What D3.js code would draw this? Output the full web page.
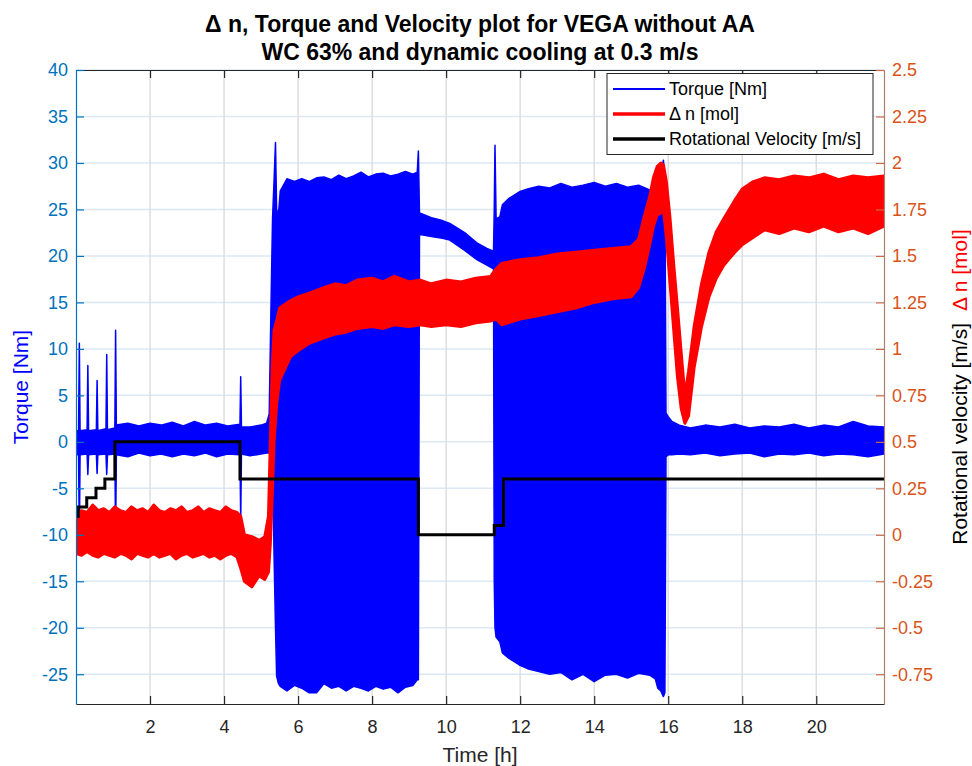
<!DOCTYPE html>
<html>
<head>
<meta charset="utf-8">
<script src="https://cdn.jsdelivr.net/npm/d3@7"></script>
<style>
body { margin: 0; background: #fff; }
text { font-family: Arial, "Liberation Sans", Helvetica, sans-serif; }
</style>
</head>
<body>
<div id="chart"></div>
<script>
// 1) Data (time in h, torque in Nm, delta n in mol, velocity in m/s)
// torque is a dense oscillating signal, kept as its upper / lower envelope
var torqueTime = [0.00, 0.07, 0.09, 0.11, 0.30, 0.32, 0.34, 0.55, 0.57, 0.59,
    0.81, 0.83, 0.85, 1.05, 1.07, 1.09, 1.4, 1.7, 2.0, 2.3,
    2.6, 2.9, 3.2, 3.5, 3.8, 4.1, 4.43, 4.45, 4.47, 4.7,
    5.0, 5.15, 5.22, 5.27, 5.31, 5.35, 5.39, 5.42, 5.47, 5.52,
    5.7, 5.9, 6.1, 6.3, 6.5, 6.7, 6.9, 7.1, 7.3, 7.5,
    7.7, 7.9, 8.1, 8.3, 8.5, 8.7, 8.9, 9.1, 9.22, 9.25,
    9.28, 9.3, 9.6, 9.9, 10.1, 10.5, 10.83, 11.1, 11.28, 11.30,
    11.32, 11.35, 11.45, 11.52, 11.7, 11.98, 12.2, 12.5, 12.8, 13.1,
    13.4, 13.7, 14.0, 14.3, 14.6, 14.9, 15.2, 15.5, 15.65, 15.72,
    15.8, 15.87, 15.91, 15.94, 16.0, 16.1, 16.3, 16.6, 17.0, 17.4,
    17.8, 18.2, 18.6, 19.0, 19.4, 19.8, 20.2, 20.6, 21.0, 21.4,
    21.83];
var torqueHigh = [1.2, 1.2, 10.6, 1.2, 1.3, 8.2, 1.2, 1.3, 6.6, 1.2,
    1.4, 9.4, 1.3, 1.5, 12.0, 1.8, 2.0, 1.7, 2.0, 1.8,
    2.1, 1.7, 2.2, 1.8, 2.0, 1.7, 1.9, 7.0, 1.6, 1.6,
    1.8, 2.0, 3.0, 15.0, 24.0, 28.0, 32.2, 25.0, 24.5, 27.0,
    28.3, 28.0, 28.3, 28.0, 28.4, 28.5, 28.2, 28.7, 28.3, 28.6,
    29.0, 28.5, 28.8, 28.9, 28.6, 28.8, 29.1, 28.8, 29.0, 31.3,
    24.5, 24.6, 24.1, 23.8, 23.5, 22.5, 21.4, 20.8, 20.5, 25.0,
    31.9, 24.0, 24.2, 25.5, 26.2, 26.9, 27.2, 27.5, 27.3, 27.8,
    27.4, 27.6, 27.9, 27.5, 27.8, 27.4, 27.6, 27.1, 27.5, 27.8,
    28.5, 30.3, 28.0, 3.1, 2.7, 2.2, 1.8, 1.5, 1.8, 1.6,
    1.9, 1.5, 1.7, 1.6, 1.9, 1.5, 1.8, 1.6, 2.2, 1.7,
    1.6];
var torqueLow = [-1.4, -1.4, -10.5, -1.4, -1.3, -3.5, -1.4, -1.3, -3.4, -1.4,
    -1.3, -3.5, -1.4, -1.3, -10.0, -1.4, -1.6, -1.2, -1.5, -1.3,
    -1.6, -1.3, -1.5, -1.2, -1.6, -1.3, -1.4, -8.4, -1.3, -1.5,
    -1.3, -1.2, -1.2, -1.5, -1.5, -12.0, -20.0, -25.2, -26.0, -26.3,
    -26.8, -26.2, -26.5, -27.0, -27.0, -26.0, -26.5, -26.3, -26.8, -26.3,
    -26.5, -26.8, -26.3, -26.6, -26.4, -27.0, -26.4, -26.2, -25.6, -25.6,
    22.4, 22.3, 22.1, 21.9, 21.7, 20.6, 19.6, 19.0, 18.6, -15.0,
    -20.0, -21.0, -21.5, -22.7, -23.3, -24.0, -24.4, -24.7, -25.0, -24.8,
    -25.6, -25.0, -25.8, -25.1, -25.0, -25.4, -24.9, -25.1, -25.5, -26.5,
    -26.8, -27.4, -27.0, -1.6, -1.4, -1.4, -1.3, -1.4, -1.2, -1.5,
    -1.3, -1.2, -1.6, -1.3, -1.4, -1.2, -1.5, -1.3, -1.4, -1.6,
    -1.3];

// delta n band (right axis)
var dnTime = [0.0, 0.15, 0.3, 0.45, 0.6, 0.75, 0.9, 1.05, 1.2, 1.35,
    1.5, 1.65, 1.8, 1.95, 2.1, 2.25, 2.4, 2.55, 2.7, 2.85,
    3.0, 3.15, 3.3, 3.45, 3.6, 3.75, 3.9, 4.05, 4.2, 4.35,
    4.45, 4.55, 4.75, 4.95, 5.1, 5.2, 5.25, 5.3, 5.35, 5.42,
    5.5, 5.8, 6.0, 6.3, 6.7, 7.0, 7.3, 7.6, 8.0, 8.3,
    8.6, 9.0, 9.3, 9.6, 10.0, 10.4, 10.8, 11.2, 11.35, 11.5,
    12.0, 12.5, 13.0, 13.5, 14.0, 14.5, 15.0, 15.2, 15.35, 15.5,
    15.6, 15.7, 15.8, 15.87, 15.95, 16.05, 16.15, 16.25, 16.35, 16.45,
    16.55, 16.7, 16.9, 17.1, 17.3, 17.5, 17.8, 18.0, 18.3, 18.6,
    19.0, 19.4, 19.8, 20.2, 20.6, 21.0, 21.4, 21.83];
var dnHigh = [0.10, 0.13, 0.12, 0.16, 0.13, 0.14, 0.12, 0.15, 0.13, 0.12,
    0.15, 0.13, 0.14, 0.12, 0.16, 0.13, 0.12, 0.14, 0.13, 0.15,
    0.12, 0.13, 0.15, 0.12, 0.14, 0.13, 0.12, 0.15, 0.13, 0.12,
    0.10, 0.00, -0.01, -0.03, -0.01, 0.10, 0.50, 0.90, 1.10, 1.15,
    1.22, 1.26, 1.28, 1.30, 1.33, 1.35, 1.34, 1.37, 1.38, 1.36,
    1.39, 1.36, 1.37, 1.35, 1.37, 1.36, 1.38, 1.39, 1.43, 1.46,
    1.48, 1.49, 1.51, 1.52, 1.53, 1.54, 1.55, 1.59, 1.71, 1.82,
    1.92, 1.98, 2.00, 1.99, 1.90, 1.70, 1.45, 1.22, 0.98, 0.75,
    0.88, 1.12, 1.35, 1.52, 1.63, 1.70, 1.80, 1.86, 1.90, 1.92,
    1.91, 1.93, 1.92, 1.94, 1.91, 1.93, 1.92, 1.93];
var dnLow = [-0.10, -0.11, -0.09, -0.11, -0.12, -0.10, -0.11, -0.12, -0.10, -0.11,
    -0.13, -0.10, -0.11, -0.12, -0.10, -0.12, -0.11, -0.10, -0.13, -0.11,
    -0.10, -0.12, -0.11, -0.10, -0.12, -0.11, -0.13, -0.11, -0.10, -0.12,
    -0.18, -0.25, -0.28, -0.22, -0.24, -0.20, -0.05, 0.20, 0.50, 0.70,
    0.83, 0.96, 0.99, 1.03, 1.06, 1.08, 1.09, 1.11, 1.12, 1.11,
    1.13, 1.12, 1.13, 1.12, 1.13, 1.12, 1.14, 1.15, 1.16, 1.13,
    1.16, 1.18, 1.20, 1.22, 1.25, 1.27, 1.28, 1.33, 1.43, 1.56,
    1.66, 1.72, 1.73, 1.75, 1.60, 1.35, 1.10, 0.85, 0.68, 0.60,
    0.64, 0.90, 1.12, 1.28, 1.38, 1.45, 1.52, 1.56, 1.60, 1.64,
    1.62, 1.65, 1.63, 1.66, 1.63, 1.65, 1.62, 1.66];

// rotational velocity steps (right axis)
var velTime = [0, 0.06, 0.29, 0.54, 0.78, 1.05, 4.43, 9.25, 11.3, 11.55, 21.83];
var velValue = [0.1, 0.15, 0.2, 0.25, 0.3, 0.5, 0.3, 0, 0.05, 0.3, 0.3];

// tick labels
var xTicks = [2, 4, 6, 8, 10, 12, 14, 16, 18, 20];
var torqueTicks = [40, 35, 30, 25, 20, 15, 10, 5, 0, -5, -10, -15, -20, -25];
var dnTicks = [2.5, 2.25, 2, 1.75, 1.5, 1.25, 1, 0.75, 0.5, 0.25, 0, -0.25, -0.5, -0.75];

var titleLines = ["\u0394 n, Torque and Velocity plot for VEGA without AA",
    "WC 63% and dynamic cooling at 0.3 m/s"];
var legendLabels = ["Torque [Nm]", "\u0394 n [mol]", "Rotational Velocity [m/s]"];

// 2) svg size and margins
var svgWidth = 972;
var svgHeight = 766;
var margin = {
    top: 70,
    bottom: 62,
    right: 88,
    left: 76
};
var width = svgWidth - margin.left - margin.right;
var height = svgHeight - margin.top - margin.bottom;

var svg = d3.select("#chart")
    .append("svg")
    .attr("width", svgWidth)
    .attr("height", svgHeight);

svg.append("defs").append("clipPath")
    .attr("id", "plotClip")
    .append("rect")
    .attr("width", width)
    .attr("height", height);

var chart = svg.append("g")
    .attr("transform", `translate(${margin.left}, ${margin.top})`);

// 3) scales
var xScale = d3.scaleLinear().domain([0, 21.83]).range([0, width]);
var yLeft = d3.scaleLinear().domain([-28.2, 40]).range([height, 0]);
var yRight = d3.scaleLinear().domain([-0.91, 2.5]).range([height, 0]);

// 4) grid
chart.append("g").selectAll("line")
    .data(torqueTicks)
    .enter()
    .append("line")
    .attr("x1", 0)
    .attr("x2", width)
    .attr("y1", d => yLeft(d))
    .attr("y2", d => yLeft(d))
    .attr("stroke", "#dce9f4")
    .attr("stroke-width", 1.5);
chart.append("g").selectAll("line")
    .data(xTicks)
    .enter()
    .append("line")
    .attr("x1", d => xScale(d))
    .attr("x2", d => xScale(d))
    .attr("y1", 0)
    .attr("y2", height)
    .attr("stroke", "#dedede")
    .attr("stroke-width", 1.5);

// 5) series
var torqueRows = torqueTime.map((t, i) => ({t: t, hi: torqueHigh[i], lo: torqueLow[i]}));
var dnRows = dnTime.map((t, i) => ({t: t, hi: dnHigh[i], lo: dnLow[i]}));
var velRows = velTime.map((t, i) => ({t: t, v: velValue[i]}));

var plot = chart.append("g").attr("clip-path", "url(#plotClip)");

var torqueArea = d3.area()
    .x(d => xScale(d.t))
    .y0(d => yLeft(d.lo))
    .y1(d => yLeft(d.hi));
plot.append("path")
    .datum(torqueRows)
    .attr("d", torqueArea)
    .attr("fill", "#0000ff")
    .attr("stroke", "#0000ff")
    .attr("stroke-width", 1.5)
    .attr("stroke-linejoin", "round");

var dnArea = d3.area()
    .x(d => xScale(d.t))
    .y0(d => yRight(d.lo))
    .y1(d => yRight(d.hi));
plot.append("path")
    .datum(dnRows)
    .attr("d", dnArea)
    .attr("fill", "#ff0000")
    .attr("stroke", "#ff0000")
    .attr("stroke-width", 3)
    .attr("stroke-linejoin", "round");

var velLine = d3.line()
    .curve(d3.curveStepAfter)
    .x(d => xScale(d.t))
    .y(d => yRight(d.v));
plot.append("path")
    .datum(velRows)
    .attr("d", velLine)
    .attr("fill", "none")
    .attr("stroke", "#000000")
    .attr("stroke-width", 3);

// 6) axes
var fmt = d => String(d);
var topAxis = chart.append("g")
    .call(d3.axisTop(xScale).tickValues(xTicks).tickSize(-8).tickSizeOuter(0).tickFormat(""));
topAxis.selectAll("path, line").attr("stroke", "#262626");

var bottomAxis = chart.append("g")
    .attr("transform", `translate(0, ${height})`)
    .call(d3.axisBottom(xScale).tickValues(xTicks).tickSize(-8).tickSizeOuter(0).tickPadding(16).tickFormat(fmt));
bottomAxis.selectAll("path, line").attr("stroke", "#262626");
bottomAxis.selectAll("text").attr("fill", "#262626");

var leftAxis = chart.append("g")
    .call(d3.axisLeft(yLeft).tickValues(torqueTicks).tickSize(-8).tickSizeOuter(0).tickPadding(8).tickFormat(fmt));
leftAxis.selectAll("path, line").attr("stroke", "#0072bd");
leftAxis.selectAll("text").attr("fill", "#0072bd");

var rightAxis = chart.append("g")
    .attr("transform", `translate(${width}, 0)`)
    .call(d3.axisRight(yRight).tickValues(dnTicks).tickSize(-8).tickSizeOuter(0).tickPadding(8).tickFormat(fmt));
rightAxis.select("path").attr("stroke", "#a9806f");
rightAxis.selectAll("line").attr("stroke", "#cf6a45");
rightAxis.selectAll("text").attr("fill", "#d95319");

[topAxis, bottomAxis, leftAxis, rightAxis].forEach(function(a) {
    a.attr("font-family", "Arial, 'Liberation Sans', sans-serif").attr("font-size", 18);
    a.selectAll("path, line").attr("stroke-width", 1.2);
});

// 7) legend
var legend = chart.append("g")
    .attr("transform", "translate(531, 3.5)");
legend.append("rect")
    .attr("width", 266)
    .attr("height", 81)
    .attr("fill", "#ffffff")
    .attr("stroke", "#262626")
    .attr("stroke-width", 1);
var legendColors = ["#0000ff", "#ff0000", "#000000"];
var legendWidths = [2.2, 3.5, 3.5];
legendLabels.forEach(function(label, i) {
    var y = 15.5 + i * 25;
    legend.append("line")
        .attr("x1", 6)
        .attr("x2", 58)
        .attr("y1", y)
        .attr("y2", y)
        .attr("stroke", legendColors[i])
        .attr("stroke-width", legendWidths[i]);
    legend.append("text")
        .attr("x", 62)
        .attr("y", y)
        .attr("dy", "0.35em")
        .style("font-size", "18px")
        .style("fill", "#000000")
        .text(label);
});

// 8) title and axis labels
titleLines.forEach(function(line, i) {
    svg.append("text")
        .attr("x", margin.left + width / 2)
        .attr("y", 32 + i * 28)
        .style("text-anchor", "middle")
        .style("font-size", "23px")
        .style("font-weight", "bold")
        .style("fill", "#000000")
        .text(line);
});

svg.append("text")
    .attr("x", margin.left + width / 2)
    .attr("y", 762)
    .style("text-anchor", "middle")
    .style("font-size", "21px")
    .style("fill", "#262626")
    .text("Time [h]");

svg.append("text")
    .attr("transform", `translate(28, ${margin.top + height / 2}) rotate(-90)`)
    .style("text-anchor", "middle")
    .style("font-size", "21px")
    .style("fill", "#0000ff")
    .text("Torque [Nm]");

var rightLabel = svg.append("text")
    .attr("transform", `translate(967, ${margin.top + height / 2}) rotate(-90)`)
    .style("text-anchor", "middle")
    .style("font-size", "21px");
rightLabel.append("tspan")
    .style("fill", "#000000")
    .text("Rotational velocity [m/s]");
rightLabel.append("tspan")
    .attr("dx", 12)
    .style("fill", "#ff0000")
    .text("\u0394 n [mol]");
</script>
</body>
</html>
